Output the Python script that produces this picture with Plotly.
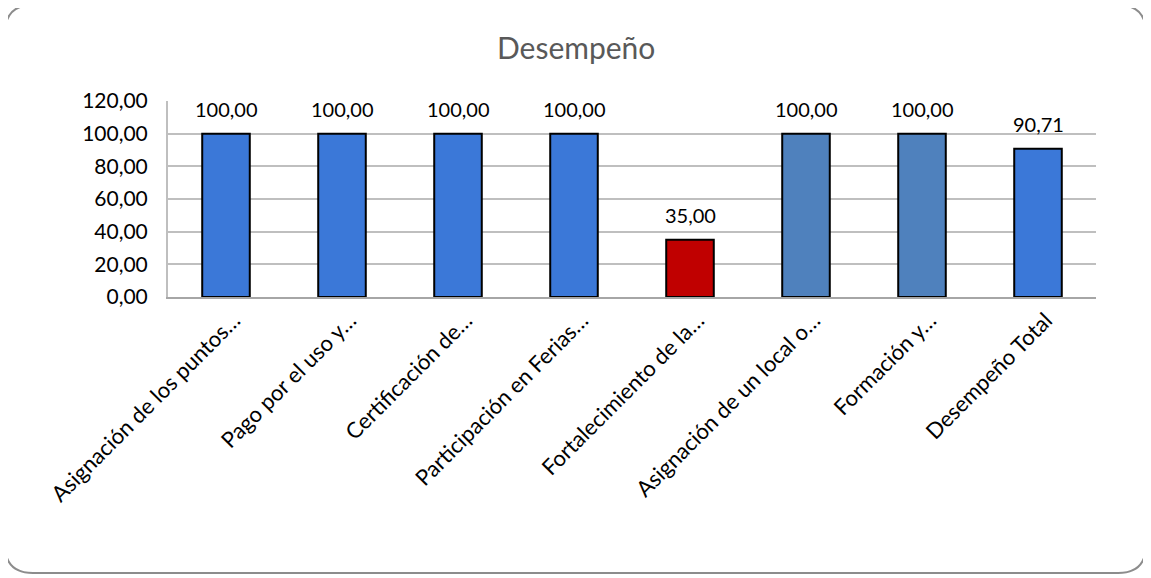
import plotly.graph_objects as go

categories = [
    "Asignación de los puntos…",
    "Pago por el uso y…",
    "Certificación de…",
    "Participación en Ferias…",
    "Fortalecimiento de la…",
    "Asignación de un local o…",
    "Formación y…",
    "Desempeño Total",
]
values = [100.00, 100.00, 100.00, 100.00, 35.00, 100.00, 100.00, 90.71]
bar_colors = ["#3B78D8", "#3B78D8", "#3B78D8", "#3B78D8", "#C00000", "#4F81BD", "#4F81BD", "#3B78D8"]
y_ticks = [0, 20, 40, 60, 80, 100, 120]
y_tick_labels = ["0,00", "20,00", "40,00", "60,00", "80,00", "100,00", "120,00"]
title_text = "Desempeño"

def fmt(v):
    return f"{v:.2f}".replace(".", ",")

OFF = 8  # page body margin
W, H = 1151 - OFF, 578 - OFF
# plot area in screen px: x 168..1096, y 101..297
L = 168 - OFF
T = 101 - OFF
R = W - (1096 - OFF)
B = H - (297 - OFF)
pw, ph = W - L - R, H - T - B

FONT = "Lato, 'Open Sans', sans-serif"

def px_to_paper(xs, ys):
    xp, yp = xs - OFF, ys - OFF
    return (xp - L) / pw, (H - B - yp) / ph

fig = go.Figure()
fig.add_trace(go.Bar(
    x=categories, y=values,
    marker=dict(color=bar_colors, line=dict(color="#000000", width=2)),
    width=0.41,
    hoverinfo="skip",
))

annotations = [
    dict(x=c, y=v, text=fmt(v), showarrow=False, yshift=25, yanchor="middle",
         xref="x", yref="y", font=dict(family=FONT, size=20, color="#000000"))
    for c, v in zip(categories, values)
]
tx, ty = px_to_paper(1151 / 2, 47)
annotations.append(dict(x=tx, y=ty, xref="paper", yref="paper", text=title_text,
                        xanchor="center", yanchor="middle",
                        showarrow=False, font=dict(family=FONT, size=30, color="#595959")))

# rounded border (screen px)
x0, y0, x1, y1, r = 5, 5, 1146, 573, 28
def P(xs, ys):
    a, b = px_to_paper(xs, ys)
    return f"{a:.5f},{b:.5f}"
path = (f"M {P(x0 + r, y0)} L {P(x1 - r, y0)} Q {P(x1, y0)} {P(x1, y0 + r)} "
        f"L {P(x1, y1 - r)} Q {P(x1, y1)} {P(x1 - r, y1)} "
        f"L {P(x0 + r, y1)} Q {P(x0, y1)} {P(x0, y1 - r)} "
        f"L {P(x0, y0 + r)} Q {P(x0, y0)} {P(x0 + r, y0)} Z")

fig.update_layout(
    width=W, height=H,
    margin=dict(l=L, r=R, t=T, b=B, pad=0),
    paper_bgcolor="#FFFFFF", plot_bgcolor="#FFFFFF",
    showlegend=False,
    annotations=annotations,
    shapes=[dict(type="path", path=path, xref="paper", yref="paper",
                 line=dict(color="#8C8C8C", width=2), fillcolor="rgba(0,0,0,0)", layer="below")],
    xaxis=dict(
        tickangle=-45, tickfont=dict(family=FONT, size=22, color="#000000"),
        showline=True, linecolor="#A6A6A6", linewidth=2, showgrid=False,
        ticks="", ticklen=0, ticklabelshift=8,
    ),
    yaxis=dict(
        range=[0, 120], tickvals=y_ticks, ticktext=y_tick_labels,
        tickfont=dict(family=FONT, size=21, color="#000000"),
        showgrid=True, gridcolor="#BFBFBF", gridwidth=2,
        showline=True, linecolor="#BFBFBF", linewidth=2,
        ticks="", zeroline=False, ticklabelstandoff=14,
    ),
)

fig.write_html("out.html")
